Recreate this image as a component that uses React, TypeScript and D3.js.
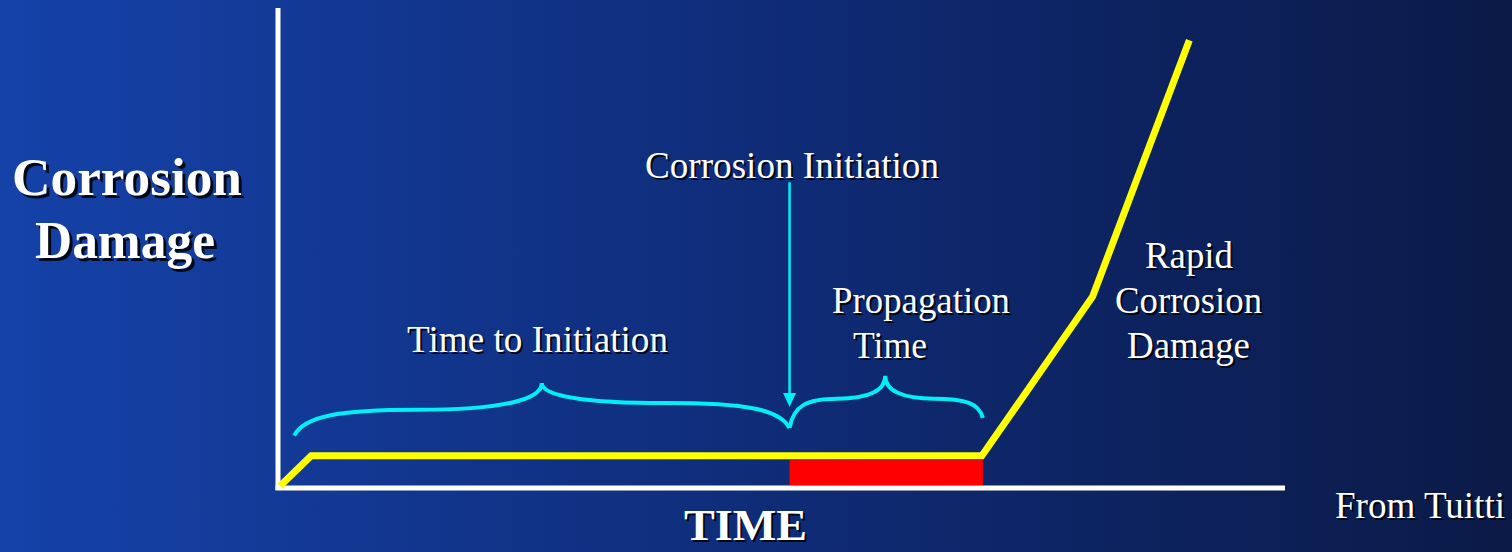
import React from "react";
import * as d3 from "d3";

// ---- data (time and damage in relative units, 0-100) ----
const curveTime = [0.2, 3.3, 69.9, 80.9, 90.5];
const curveDamage = [0.4, 6.7, 6.7, 39.9, 93.3];
const initiationTime = 50.8;
const propagationEnd = 70.0;
const propagationBand = [0.6, 5.8];
const arrowRange = [63.7, 16.9];
const braceStart = [1.6, 50.8];
const braceCusp = [26.2, 60.3];
const braceEnd = [50.8, 70.0];
const braceStartLevel = [10.9, 12.5];
const braceEndLevel = [12.5, 14.6];
const braceCuspLevel = [21.9, 23.4];
const braceLeftShoulder = [16.3, 18.6];
const braceRightShoulder = [17.7, 18.6];
const yTitle = ["Corrosion", "Damage"];
const xTitle = "TIME";
const rapidLabel = ["Rapid", "Corrosion", "Damage"];
const propLabel = ["Propagation", "Time"];
const initLabel = "Time to Initiation";
const corrInitLabel = "Corrosion Initiation";
const sourceLabel = "From Tuitti";

const W = 1512;
const H = 552;
const FONT = "'Liberation Serif', 'Times New Roman', serif";

const x = d3.scaleLinear().domain([0, 100]).range([278, 1285]);
const y = d3.scaleLinear().domain([0, 100]).range([488, 8]);

function halfBrace(xe: number, ye: number, xc: number, yc: number, yq: number) {
  const xm = (xe + xc) / 2;
  const dx = xm - xe;
  const p = d3.path();
  p.moveTo(xe, ye);
  p.bezierCurveTo(xe + dx * 0.08, yq + (ye - yq) * 0.25, xe + dx * 0.35, yq, xm, yq);
  p.bezierCurveTo(xm + (xc - xm) * 0.65, yq, xc, yq - (yq - yc) * 0.35, xc, yc);
  return p.toString();
}

function Txt(props: {
  x: number;
  y: number;
  w: number;
  size: number;
  bold?: boolean;
  shadow?: number;
  children: string;
}) {
  const s = props.shadow ?? 2;
  const common = {
    fontFamily: FONT,
    fontSize: props.size,
    fontWeight: props.bold ? 700 : 400,
    textLength: props.w,
    lengthAdjust: "spacingAndGlyphs" as const,
  };
  return (
    <g>
      <text x={props.x + s} y={props.y + s} fill="#000" fillOpacity={0.85} {...common}>
        {props.children}
      </text>
      <text x={props.x} y={props.y} fill="#fff" {...common}>
        {props.children}
      </text>
    </g>
  );
}

export default function App() {
  const line = d3
    .line<number>()
    .x((_, i) => x(curveTime[i]))
    .y((d) => y(d));
  const curvePath = line(curveDamage) || "";

  const braces = braceStart.map((s, i) => {
    const left = halfBrace(x(s), y(braceStartLevel[i]), x(braceCusp[i]), y(braceCuspLevel[i]), y(braceLeftShoulder[i]));
    const right = halfBrace(x(braceEnd[i]), y(braceEndLevel[i]), x(braceCusp[i]), y(braceCuspLevel[i]), y(braceRightShoulder[i]));
    return left + " " + right;
  });

  const ax = x(initiationTime);
  const aTop = y(arrowRange[0]);
  const aTip = y(arrowRange[1]);

  return (
    <div style={{ position: "absolute", left: 0, top: 0 }}>
      <svg width={W} height={H} style={{ display: "block" }}>
        <defs>
          <linearGradient id="bg" x1="0" y1="0" x2="1" y2="0">
            <stop offset="0" stopColor="#1542a9" />
            <stop offset="0.5" stopColor="#0f2c78" />
            <stop offset="1" stopColor="#0b1a47" />
          </linearGradient>
        </defs>
        <rect x={0} y={0} width={W} height={H} fill="url(#bg)" />

        {/* propagation band */}
        <rect
          x={x(initiationTime)}
          y={y(propagationBand[1])}
          width={x(propagationEnd) - x(initiationTime)}
          height={y(propagationBand[0]) - y(propagationBand[1])}
          fill="#ff0000"
        />

        {/* axes */}
        <line x1={x(0)} y1={y(0) + 2} x2={x(0)} y2={y(100)} stroke="#fff" strokeWidth={5} />
        <line x1={x(0) - 2.5} y1={y(0)} x2={x(100)} y2={y(0)} stroke="#fff" strokeWidth={5} />

        {/* damage curve */}
        <path d={curvePath} fill="none" stroke="#ffff00" strokeWidth={7} strokeLinejoin="miter" />

        {/* braces */}
        {braces.map((d, i) => (
          <path key={i} d={d} fill="none" stroke="#00f0f8" strokeWidth={4} strokeLinecap="butt" />
        ))}

        {/* initiation arrow */}
        <line x1={ax} y1={aTop} x2={ax} y2={aTip - 12} stroke="#00f0f8" strokeWidth={2.5} />
        <path d={`M${ax - 6.5},${aTip - 14} L${ax + 6.5},${aTip - 14} L${ax},${aTip} Z`} fill="#00f0f8" />

        {/* labels */}
        <Txt x={12} y={195} w={230} size={53} bold shadow={3}>{yTitle[0]}</Txt>
        <Txt x={35} y={258} w={180} size={53} bold shadow={3}>{yTitle[1]}</Txt>
        <Txt x={684} y={540} w={123} size={44} bold shadow={2}>{xTitle}</Txt>
        <Txt x={407} y={352} w={261} size={37}>{initLabel}</Txt>
        <Txt x={645} y={178} w={294} size={37}>{corrInitLabel}</Txt>
        <Txt x={832} y={313} w={178} size={37}>{propLabel[0]}</Txt>
        <Txt x={853} y={358} w={74} size={37}>{propLabel[1]}</Txt>
        <Txt x={1145} y={268} w={88} size={37}>{rapidLabel[0]}</Txt>
        <Txt x={1115} y={313} w={147} size={37}>{rapidLabel[1]}</Txt>
        <Txt x={1127} y={358} w={123} size={37}>{rapidLabel[2]}</Txt>
        <Txt x={1335} y={518} w={170} size={37}>{sourceLabel}</Txt>
      </svg>
    </div>
  );
}
